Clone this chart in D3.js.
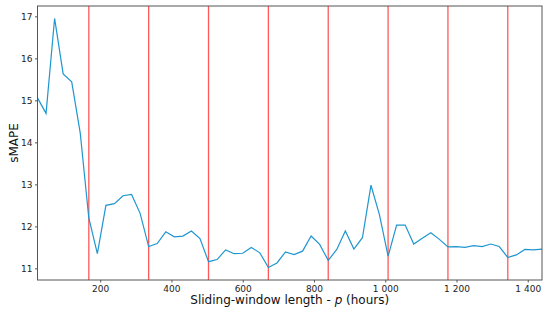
<!DOCTYPE html>
<html>
<head>
<meta charset="utf-8">
<script src="https://cdn.jsdelivr.net/npm/d3@7"></script>
<style>
  body { margin: 0; background: #fff; }
  svg { display: block; font-family: "DejaVu Sans", sans-serif; }
</style>
</head>
<body>
<script>
// -------------------- DATA --------------------
var hours = [24, 48, 72, 96, 120, 144, 168, 192, 216, 240, 264, 288, 312, 336, 360,
  384, 408, 432, 456, 480, 504, 528, 552, 576, 600, 624, 648, 672, 696, 720,
  744, 768, 792, 816, 840, 864, 888, 912, 936, 960, 984, 1008, 1032, 1056, 1080,
  1104, 1128, 1152, 1176, 1200, 1224, 1248, 1272, 1296, 1320, 1344, 1368, 1392, 1416, 1440];
var smape = [15.06, 14.69, 16.95, 15.63, 15.44, 14.22, 12.20, 11.35, 12.50, 12.54, 12.73, 12.76, 12.31, 11.52, 11.59,
  11.87, 11.75, 11.77, 11.89, 11.71, 11.16, 11.21, 11.44, 11.35, 11.36, 11.50, 11.37, 11.02, 11.13, 11.39,
  11.33, 11.41, 11.77, 11.57, 11.19, 11.45, 11.89, 11.46, 11.73, 12.98, 12.27, 11.29, 12.03, 12.03, 11.58,
  11.72, 11.85, 11.69, 11.51, 11.52, 11.50, 11.54, 11.52, 11.58, 11.52, 11.26, 11.32, 11.45, 11.44, 11.46];
var weekLines = [168, 336, 504, 672, 840, 1008, 1176, 1344];
var xTicks = [200, 400, 600, 800, 1000, 1200, 1400];
var yTicks = [11, 12, 13, 14, 15, 16, 17];

// -------------------- DIMENSIONS --------------------
var w = 550, h = 311;
var margin = { top: 6, right: 8, bottom: 31, left: 37.5 };
var innerW = w - margin.left - margin.right;
var innerH = h - margin.top - margin.bottom;

// y range padded 5% like matplotlib
var ext = d3.extent(smape);
var pad = (ext[1] - ext[0]) * 0.05;

var x = d3.scaleLinear().domain([24, 1440]).range([0, innerW]);
var y = d3.scaleLinear().domain([ext[0] - pad, ext[1] + pad]).range([innerH, 0]);

var svg = d3.select("body").append("svg")
  .attr("width", w)
  .attr("height", h);

var g = svg.append("g")
  .attr("transform", "translate(" + margin.left + "," + margin.top + ")");

// weekly red lines
g.selectAll("line.week")
  .data(weekLines)
  .enter()
  .append("line")
  .attr("class", "week")
  .attr("x1", function(d){ return x(d); })
  .attr("x2", function(d){ return x(d); })
  .attr("y1", 0)
  .attr("y2", innerH)
  .attr("stroke", "#ff3030")
  .attr("stroke-opacity", 0.8)
  .attr("stroke-width", 1.3);

// series line
var line = d3.line()
  .x(function(d, i){ return x(hours[i]); })
  .y(function(d){ return y(d); });

g.append("path")
  .datum(smape)
  .attr("d", line)
  .attr("fill", "none")
  .attr("stroke", "#1f96d0")
  .attr("stroke-width", 1.2);

// -------------------- AXES --------------------
var fmt = function(d){ return d >= 1000 ? d3.format(",")(d).replace(",", " ") : String(d); };

var xAxis = g.append("g")
  .attr("transform", "translate(0," + innerH + ")")
  .call(d3.axisBottom(x).tickValues(xTicks).tickFormat(fmt).tickSize(2.5).tickPadding(3));

var yAxis = g.append("g")
  .call(d3.axisLeft(y).tickValues(yTicks).tickFormat(d3.format("d")).tickSize(2.5).tickPadding(2.5));

[xAxis, yAxis].forEach(function(a){
  a.select(".domain").remove();
  a.selectAll("line").attr("stroke", "#555");
  a.selectAll("text")
    .attr("font-family", "DejaVu Sans")
    .attr("font-size", "9px")
    .attr("fill", "#222");
});

// frame
g.append("rect")
  .attr("x", 0)
  .attr("y", 0)
  .attr("width", innerW)
  .attr("height", innerH)
  .attr("fill", "none")
  .attr("stroke", "#555")
  .attr("stroke-width", 1);

// labels
var xl = svg.append("text")
  .attr("x", margin.left + innerW / 2)
  .attr("y", 303.5)
  .attr("text-anchor", "middle")
  .attr("font-size", "12px")
  .attr("fill", "#111");
xl.append("tspan").text("Sliding-window length - ");
xl.append("tspan").attr("font-style", "italic").text("p");
xl.append("tspan").text(" (hours)");

svg.append("text")
  .attr("transform", "translate(18," + (margin.top + innerH / 2) + ") rotate(-90)")
  .attr("text-anchor", "middle")
  .attr("font-size", "12px")
  .attr("fill", "#111")
  .text("sMAPE");
</script>
</body>
</html>
